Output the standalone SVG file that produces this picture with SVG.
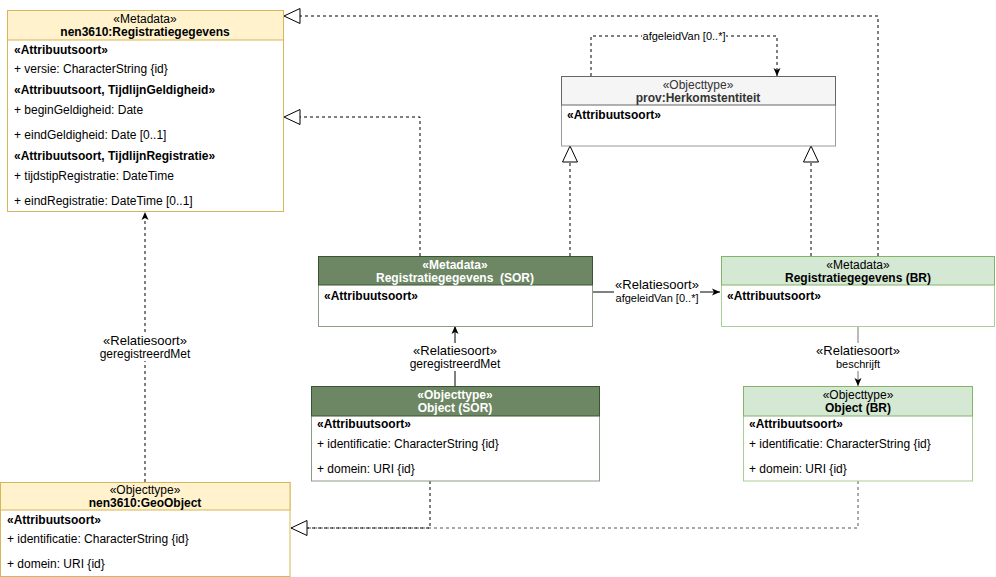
<svg xmlns="http://www.w3.org/2000/svg" width="996" height="577" viewBox="0 0 996 577">
<style>
text{font-family:"Liberation Sans",Arial,Helvetica,sans-serif;font-size:12px;fill:#000}
.c{text-anchor:middle}
.b{font-weight:bold}
.w{fill:#fff}
.g{fill:#333}
.s11{font-size:11px}
.s13{font-size:13px}
.d{fill:none;stroke:#000;stroke-dasharray:3 3}
.l{fill:none;stroke:#000}
.lbl{fill:#fff}
</style>
<defs>
<marker id="tri" markerUnits="userSpaceOnUse" viewBox="0 0 17 16" refX="16.5" refY="8" markerWidth="17" markerHeight="16" orient="auto">
<path d="M0.5,0.5 L16.5,8 L0.5,15.5 Z" fill="#fff" stroke="#000"/>
</marker>
<marker id="arr" markerUnits="userSpaceOnUse" viewBox="0 0 8 8" refX="8" refY="4" markerWidth="8" markerHeight="8" orient="auto">
<path d="M0,0.5 L8,4 L0,7.5 L2,4 Z" fill="#000"/>
</marker>
</defs>

<g id="connectors">
<polyline class="d" points="878,256 878,16 284,16" marker-end="url(#tri)"/>
<polyline class="d" points="420,256 420,117 284,117" marker-end="url(#tri)"/>
<polyline class="d" points="570,256 570,146" marker-end="url(#tri)"/>
<polyline class="d" points="811,256 811,146" marker-end="url(#tri)"/>
<polyline class="d" points="591,76 591,36 777,36 777,76" marker-end="url(#arr)"/>
<rect class="lbl" x="642" y="30" width="84" height="12"/>
<text class="c s11" x="684" y="40">afgeleidVan [0..*]</text>
<polyline class="l" points="593,292 720,292" marker-end="url(#arr)"/>
<rect class="lbl" x="614" y="278" width="86" height="28"/>
<text class="c s13" x="657" y="289">«Relatiesoort»</text>
<text class="c s11" x="657" y="302">afgeleidVan [0..*]</text>
<polyline class="l" points="858,326 858,386" marker-end="url(#arr)" style="stroke:#777"/>
<rect class="lbl" x="815" y="343" width="86" height="28"/>
<text class="c s13" x="858" y="355">«Relatiesoort»</text>
<text class="c s11" x="858" y="368">beschrijft</text>
<polyline class="l" points="455,386 455,326" marker-end="url(#arr)"/>
<rect class="lbl" x="409" y="343" width="92" height="28"/>
<text class="c s13" x="455" y="355">«Relatiesoort»</text>
<text class="c" x="455" y="368">geregistreerdMet</text>
<polyline class="d" points="145,482 145,212" marker-end="url(#arr)"/>
<rect class="lbl" x="99" y="333" width="92" height="28"/>
<text class="c s13" x="145" y="345">«Relatiesoort»</text>
<text class="c" x="145" y="358">geregistreerdMet</text>
<polyline class="d" points="858,481 858,528 291,528" style="stroke:#555"/>
<polyline class="d" points="430,481 430,528 291,528" marker-end="url(#tri)"/>
</g>

<g id="nen3610-registratiegegevens">
<rect x="7.5" y="10.5" width="276" height="201" fill="#fff" stroke="#d6b656"/>
<rect x="7.5" y="10.5" width="276" height="29.5" fill="#fff2cc" stroke="#d6b656"/>
<text class="c" x="145" y="23">«Metadata»</text>
<text class="c b" x="145" y="36">nen3610:Registratiegegevens</text>
<text class="b" x="14" y="54">«Attribuutsoort»</text>
<text x="14" y="73">+ versie: CharacterString {id}</text>
<text class="b" x="14" y="94">«Attribuutsoort, TijdlijnGeldigheid»</text>
<text x="14" y="114">+ beginGeldigheid: Date</text>
<text x="14" y="139">+ eindGeldigheid: Date [0..1]</text>
<text class="b" x="14" y="160">«Attribuutsoort, TijdlijnRegistratie»</text>
<text x="14" y="180">+ tijdstipRegistratie: DateTime</text>
<text x="14" y="205">+ eindRegistratie: DateTime [0..1]</text>
</g>

<g id="prov-herkomstentiteit">
<rect x="561.5" y="76.5" width="274" height="69.5" fill="#fff" stroke="#999"/>
<rect x="561.5" y="76.5" width="274" height="28.5" fill="#f5f5f5" stroke="#666"/>
<text class="c g" x="698" y="89">«Objecttype»</text>
<text class="c b g" x="698" y="102">prov:Herkomstentiteit</text>
<text class="b" x="567" y="119">«Attribuutsoort»</text>
</g>

<g id="registratiegegevens-sor">
<rect x="318.5" y="256.5" width="274" height="70" fill="#fff" stroke="#8d9c88"/>
<rect x="318.5" y="256.5" width="274" height="28.5" fill="#6d8764" stroke="#3a5431"/>
<text class="c b w" x="455" y="269">«Metadata»</text>
<text class="c b w" x="455" y="282" xml:space="preserve">Registratiegegevens  (SOR)</text>
<text class="b" x="324" y="300">«Attribuutsoort»</text>
</g>

<g id="registratiegegevens-br">
<rect x="721.5" y="256.5" width="273" height="70" fill="#fff" stroke="#a9cf98"/>
<rect x="721.5" y="256.5" width="273" height="28.5" fill="#d5e8d4" stroke="#82b366"/>
<text class="c" x="858" y="269">«Metadata»</text>
<text class="c b" x="858" y="282">Registratiegegevens (BR)</text>
<text class="b" x="727" y="300">«Attribuutsoort»</text>
</g>

<g id="object-sor">
<rect x="311.5" y="386.5" width="288" height="94.5" fill="#fff" stroke="#8d9c88"/>
<rect x="311.5" y="386.5" width="288" height="29.5" fill="#6d8764" stroke="#3a5431"/>
<text class="c b w" x="455" y="399">«Objecttype»</text>
<text class="c b w" x="455" y="412">Object (SOR)</text>
<text class="b" x="317" y="428">«Attribuutsoort»</text>
<text x="317" y="448">+ identificatie: CharacterString {id}</text>
<text x="317" y="473">+ domein: URI {id}</text>
</g>

<g id="object-br">
<rect x="743.5" y="386.5" width="229" height="94.5" fill="#fff" stroke="#a9cf98"/>
<rect x="743.5" y="386.5" width="229" height="29.5" fill="#d5e8d4" stroke="#82b366"/>
<text class="c" x="858" y="399">«Objecttype»</text>
<text class="c b" x="858" y="412">Object (BR)</text>
<text class="b" x="749" y="428">«Attribuutsoort»</text>
<text x="749" y="448">+ identificatie: CharacterString {id}</text>
<text x="749" y="473">+ domein: URI {id}</text>
</g>

<g id="nen3610-geoobject">
<rect x="0.5" y="482.5" width="289.5" height="94" fill="#fff" stroke="#d6b656"/>
<rect x="0.5" y="482.5" width="289.5" height="27.5" fill="#fff2cc" stroke="#d6b656"/>
<text class="c" x="145" y="494">«Objecttype»</text>
<text class="c b" x="145" y="507">nen3610:GeoObject</text>
<text class="b" x="7" y="524">«Attribuutsoort»</text>
<text x="7" y="543">+ identificatie: CharacterString {id}</text>
<text x="7" y="568">+ domein: URI {id}</text>
</g>
</svg>
